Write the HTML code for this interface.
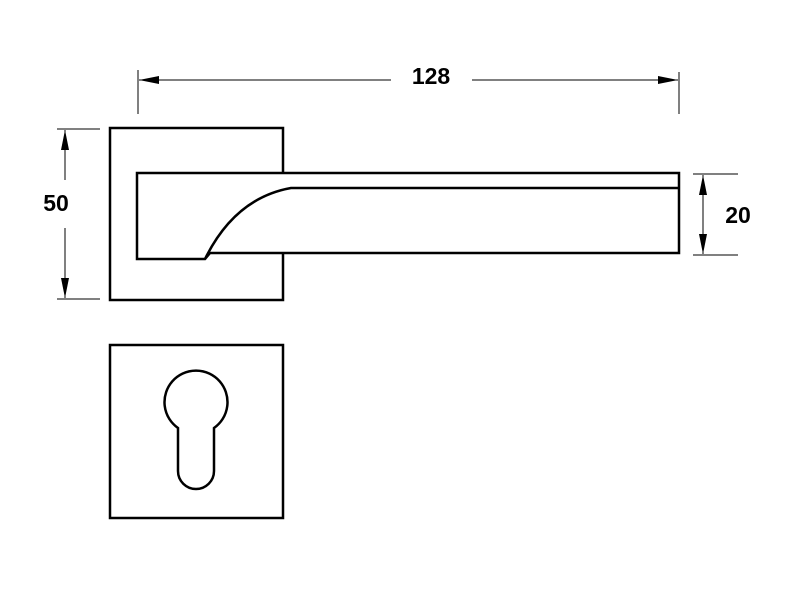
<!DOCTYPE html>
<html><head><style>html,body{margin:0;padding:0;background:#fff}svg{display:block}</style></head>
<body>
<svg width="800" height="600" viewBox="0 0 800 600" xmlns="http://www.w3.org/2000/svg">
<defs>
<marker id="a" viewBox="0 0 20 8" refX="20" refY="4" markerWidth="20" markerHeight="8" markerUnits="userSpaceOnUse" orient="auto-start-reverse"><path d="M0,0 L20,4 L0,8 Z" fill="#000"/></marker>
</defs>
<g stroke="#000" stroke-width="1" fill="none">
<line x1="138" y1="70" x2="138" y2="114"/>
<line x1="679" y1="72" x2="679" y2="114"/>
<line x1="139" y1="80" x2="391" y2="80" marker-start="url(#a)"/>
<line x1="472" y1="80" x2="678" y2="80" marker-end="url(#a)"/>
<line x1="57" y1="129" x2="100" y2="129"/>
<line x1="57" y1="299" x2="100" y2="299"/>
<line x1="65" y1="130" x2="65" y2="180" marker-start="url(#a)"/>
<line x1="65" y1="228" x2="65" y2="298" marker-end="url(#a)"/>
<line x1="693" y1="174" x2="738" y2="174"/>
<line x1="693" y1="255" x2="738" y2="255"/>
<line x1="703" y1="175" x2="703" y2="254" marker-start="url(#a)" marker-end="url(#a)"/>
</g>
<g stroke="#000" stroke-width="2.5" fill="none">
<rect x="110" y="128" width="173" height="172"/>
<path d="M137,173 L679,173 L679,253 L210,253 L205,259 L137,259 Z" fill="#fff"/>
<path d="M205,259 Q235,198 291,188 L679,188"/>
<rect x="110" y="345" width="173" height="173"/>
<path d="M178,428 A31.5,31.5 0 1 1 214,428 L214,471 A18,18 0 0 1 178,471 Z"/>
</g>
<g font-family="Liberation Sans, sans-serif" font-weight="bold" font-size="23" fill="#000">
<text x="431" y="84" text-anchor="middle">128</text>
<text x="56" y="211" text-anchor="middle">50</text>
<text x="738" y="223" text-anchor="middle">20</text>
</g>
</svg>
</body></html>
